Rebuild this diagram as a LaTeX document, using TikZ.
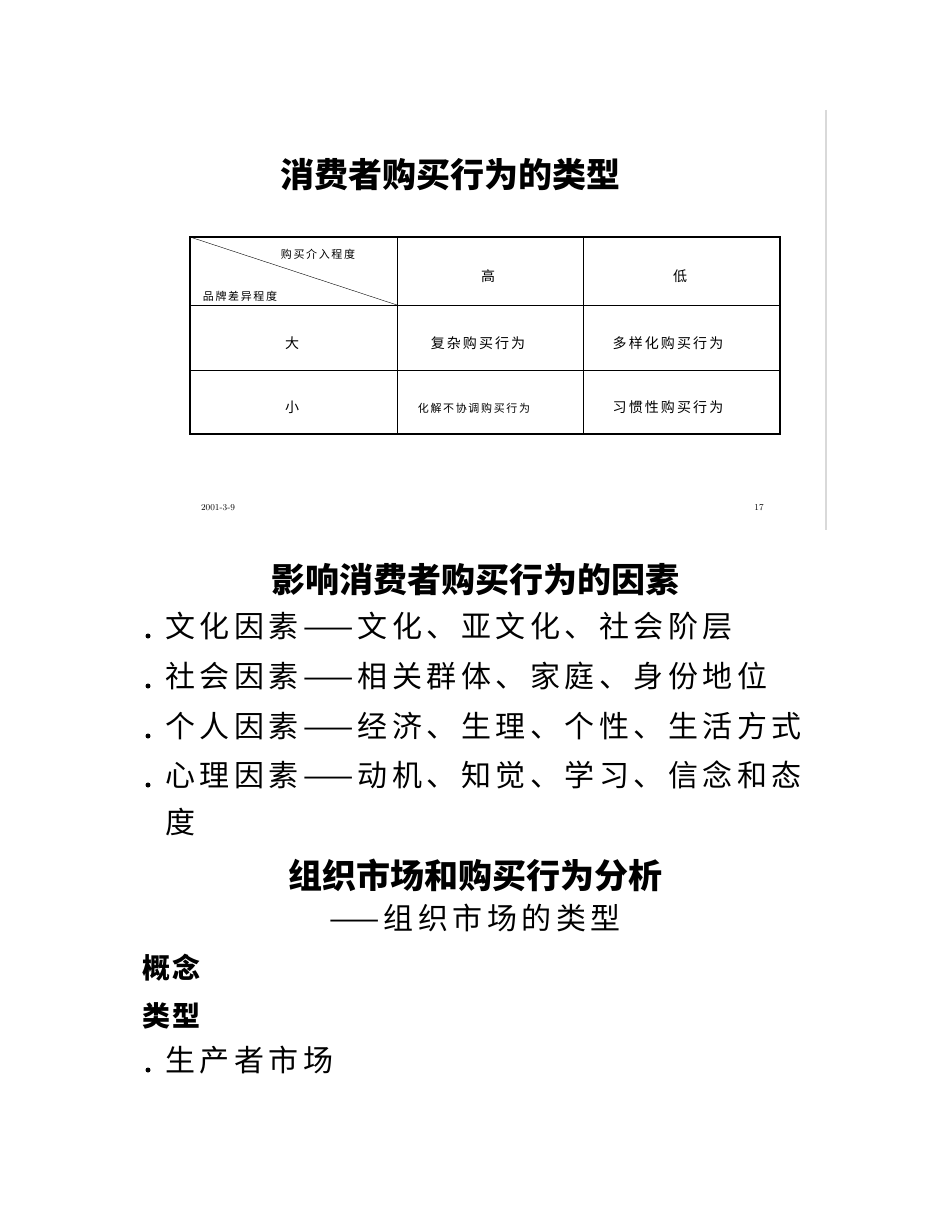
\documentclass[tikz,border=0pt]{standalone}
\usepackage{fontspec}
\newfontfamily\cjk{Noto Sans CJK SC}
\newfontfamily\cjksp{Noto Sans CJK SC}[LetterSpace=15]
\newfontfamily\cjkbsp{Noto Sans CJK SC}[UprightFont=* Black,LetterSpace=10]
\newfontfamily\cjkb{Noto Sans CJK SC}[UprightFont=* Black,BoldFont=* Black]
\begin{document}
\begin{tikzpicture}[x=1pt,y=-1pt,
  ttl/.style={font=\cjkb\fontsize{34}{34}\selectfont},
  body/.style={font=\cjksp\fontsize{30}{32}\selectfont,anchor=west,inner sep=0},
  cell/.style={font=\cjksp\fontsize{14}{14}\selectfont},
  small/.style={font=\cjksp\fontsize{11}{11}\selectfont},
  dot/.style={circle,fill,inner sep=0,minimum size=5}]
\useasboundingbox (0,0) rectangle (950,1230);
\draw[black!15,line width=1.5] (826,110) -- (826,530);
\node[ttl] (t1) at (450,175) {消费者购买行为的类型};
\draw[line width=1.4] (190,237) rectangle (780,434);
\draw (397,237) -- (397,434) (583,237) -- (583,434);
\draw (190,305) -- (780,305) (190,370) -- (780,370);
\draw (190,237) -- (397,305);
\node[small] (h1) at (318,254) {购买介入程度};
\node[small] (h2) at (240,296) {品牌差异程度};
\node[cell] (c1) at (488,276) {高};
\node[cell] (c2) at (680,276) {低};
\node[cell] (r1) at (292,343) {大};
\node[cell] (r2) at (292,407) {小};
\node[cell] (a1) at (478,343) {复杂购买行为};
\node[cell] (a2) at (668,343) {多样化购买行为};
\node[small] (a3) at (474,408) {化解不协调购买行为};
\node[cell] (a4) at (668,407) {习惯性购买行为};
\node[font=\fontsize{9}{9}\selectfont\rmfamily] (f1) at (218,508) {2001-3-9};
\node[font=\fontsize{9}{9}\selectfont\rmfamily] (f2) at (759,508) {17};
\node[ttl] (t2) at (475,580) {影响消费者购买行为的因素};
\foreach \y/\t in {626/文化因素——文化、亚文化、社会阶层,676/社会因素——相关群体、家庭、身份地位,726/个人因素——经济、生理、个性、生活方式,775/心理因素——动机、知觉、学习、信念和态}{
  \node[body] at (165,\y) {\t};
  \node[dot] at (148,\y+10) {};
}
\node[body] (du) at (165,822) {度};
\node[ttl] (t3) at (475,875) {组织市场和购买行为分析};
\node[font=\cjksp\fontsize{30}{32}\selectfont] (t3b) at (475,918) {——组织市场的类型};
\node[body,font=\cjkbsp\fontsize{28}{30}\selectfont] (k1) at (142,968) {概念};
\node[body,font=\cjkbsp\fontsize{28}{30}\selectfont] (k2) at (142,1016) {类型};
\node[body] (k3) at (165,1060) {生产者市场};
\node[dot] at (148,1070) {};
\end{tikzpicture}
\end{document}
